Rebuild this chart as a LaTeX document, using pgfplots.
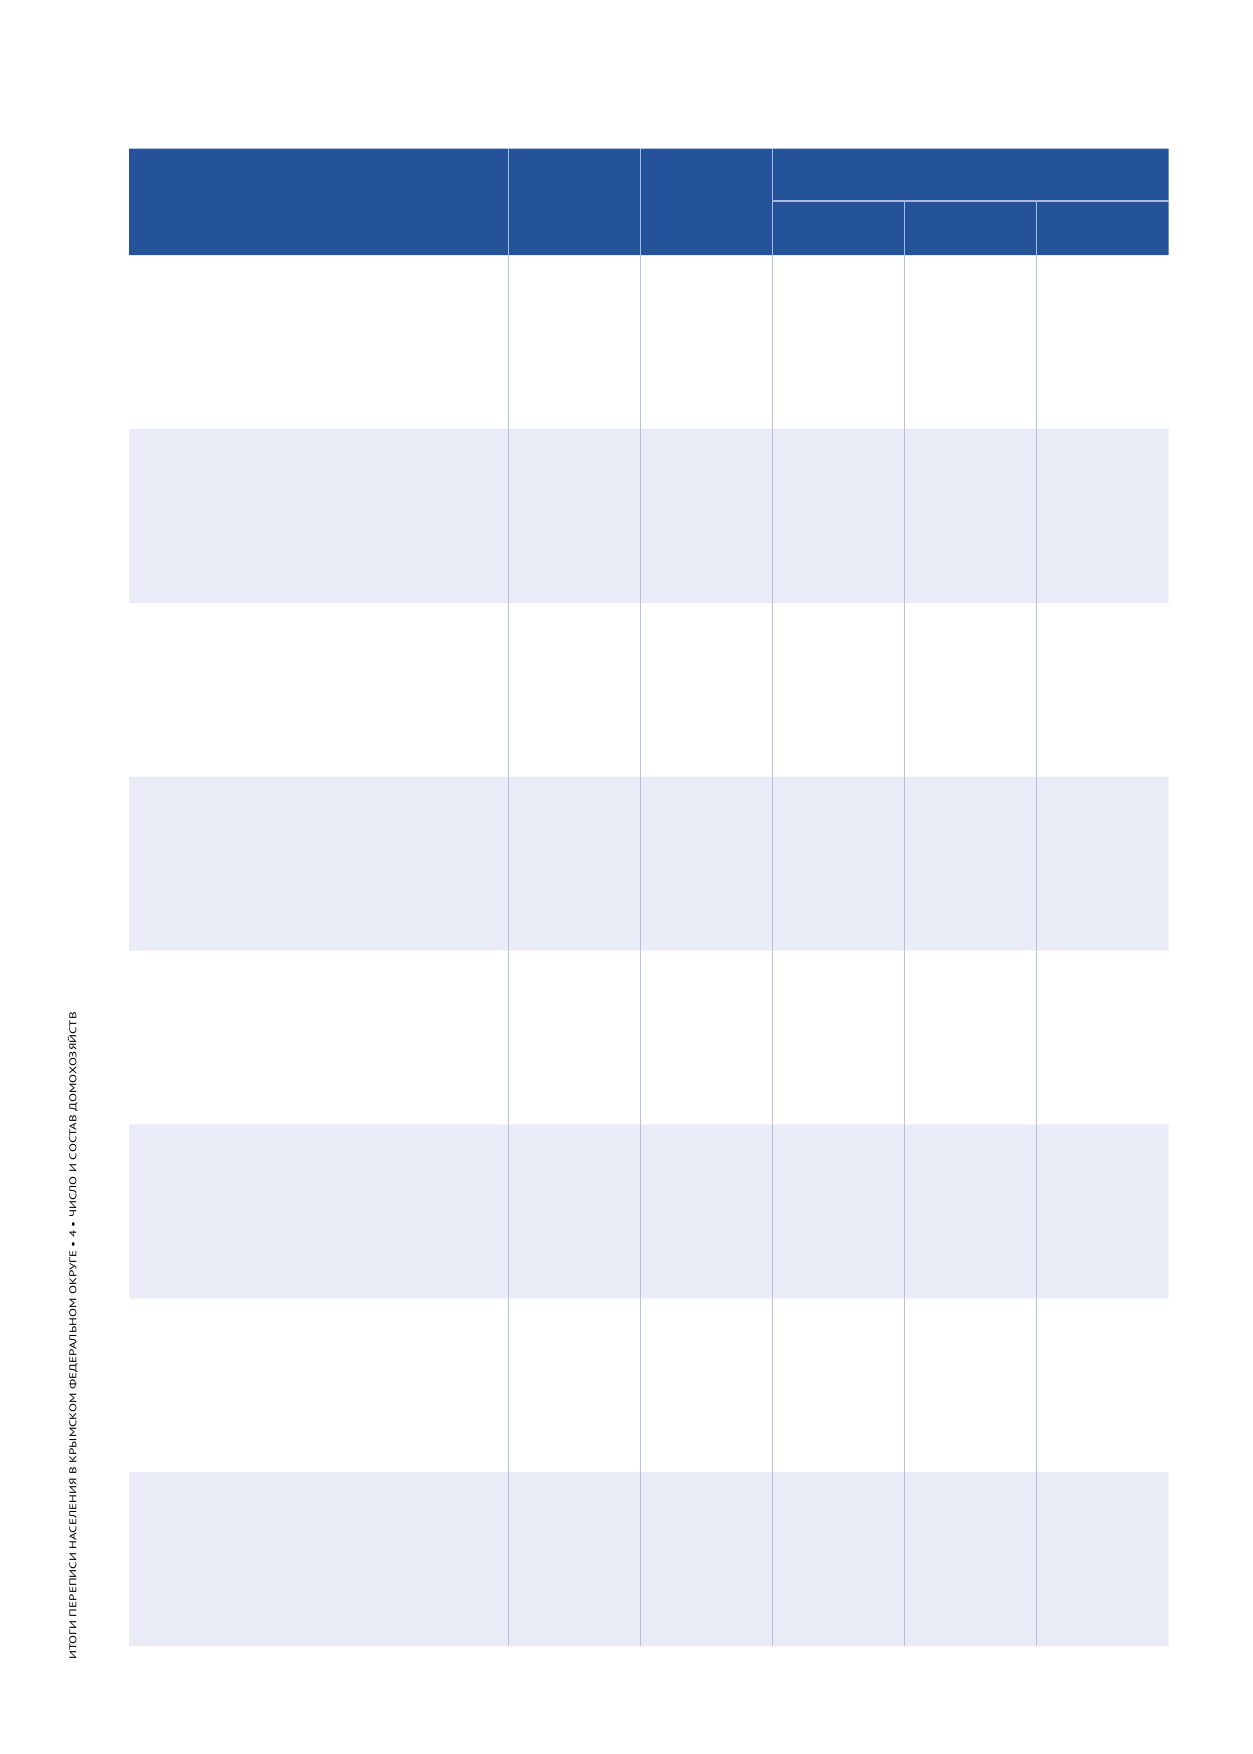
\documentclass[border=0pt]{standalone}
\usepackage{fontspec}
\usepackage{pgfplots}
\pgfplotsset{compat=1.18}
\newfontfamily\ptsans{PT Sans}
\definecolor{hdr}{HTML}{25539A}
\definecolor{band}{HTML}{E9EBF7}
\definecolor{gridc}{HTML}{B9C0E0}
\definecolor{hline}{HTML}{A8B9E4}
\definecolor{txt}{HTML}{2A2A2A}
\newsavebox\sidebox
\begin{document}
\sbox\sidebox{\ptsans\fontsize{4.7bp}{5.5bp}\selectfont ИТОГИ ПЕРЕПИСИ НАСЕЛЕНИЯ В КРЫМСКОМ ФЕДЕРАЛЬНОМ ОКРУГЕ • 4 • ЧИСЛО И СОСТАВ ДОМОХОЗЯЙСТВ}
\pgfmathsetmacro\sx{312.2/(\wd\sidebox)}
\begin{tikzpicture}
\begin{axis}[width=595bp, height=842.3bp, scale only axis,
  xmin=0, xmax=1239, ymin=0, ymax=1754, y dir=reverse,
  hide axis, clip=false]
% shaded body rows
\addplot[fill=band, draw=none] coordinates {(115.3,428.9) (1154.7,428.9) (1154.7,602.8) (115.3,602.8) (115.3,428.9)};
\addplot[fill=band, draw=none] coordinates {(115.3,776.6) (1154.7,776.6) (1154.7,950.5) (115.3,950.5) (115.3,776.6)};
\addplot[fill=band, draw=none] coordinates {(115.3,1124.4) (1154.7,1124.4) (1154.7,1298.3) (115.3,1298.3) (115.3,1124.4)};
\addplot[fill=band, draw=none] coordinates {(115.3,1472.1) (1154.7,1472.1) (1154.7,1646) (115.3,1646) (115.3,1472.1)};
% header
\addplot[fill=hdr, draw=none] coordinates {(115.3,148.7) (1154.7,148.7) (1154.7,255) (115.3,255) (115.3,148.7)};
% body vertical lines
\addplot[gridc, line width=0.9bp] coordinates {(494.7,255) (494.7,1646)};
\addplot[gridc, line width=0.9bp] coordinates {(626.7,255) (626.7,1646)};
\addplot[gridc, line width=0.9bp] coordinates {(758.7,255) (758.7,1646)};
\addplot[gridc, line width=0.9bp] coordinates {(890.7,255) (890.7,1646)};
\addplot[gridc, line width=0.9bp] coordinates {(1022.7,255) (1022.7,1646)};
% header lines
\addplot[hline, line width=0.9bp] coordinates {(494.7,148.7) (494.7,255)};
\addplot[hline, line width=0.9bp] coordinates {(626.7,148.7) (626.7,255)};
\addplot[hline, line width=0.9bp] coordinates {(758.7,148.7) (758.7,255)};
\addplot[hline, line width=0.9bp] coordinates {(890.7,201.3) (890.7,255)};
\addplot[hline, line width=0.9bp] coordinates {(1022.7,201.3) (1022.7,255)};
\addplot[hline, line width=1.1bp] coordinates {(758.7,201.3) (1154.7,201.3)};
% side running title
\node[rotate=90, text=txt, inner sep=0pt] at (axis cs:59,1336) {\scalebox{\sx}[1]{\usebox\sidebox}};
\end{axis}
\pgfresetboundingbox
\path (0,0) rectangle (595bp,842.3bp);
\end{tikzpicture}
\end{document}
